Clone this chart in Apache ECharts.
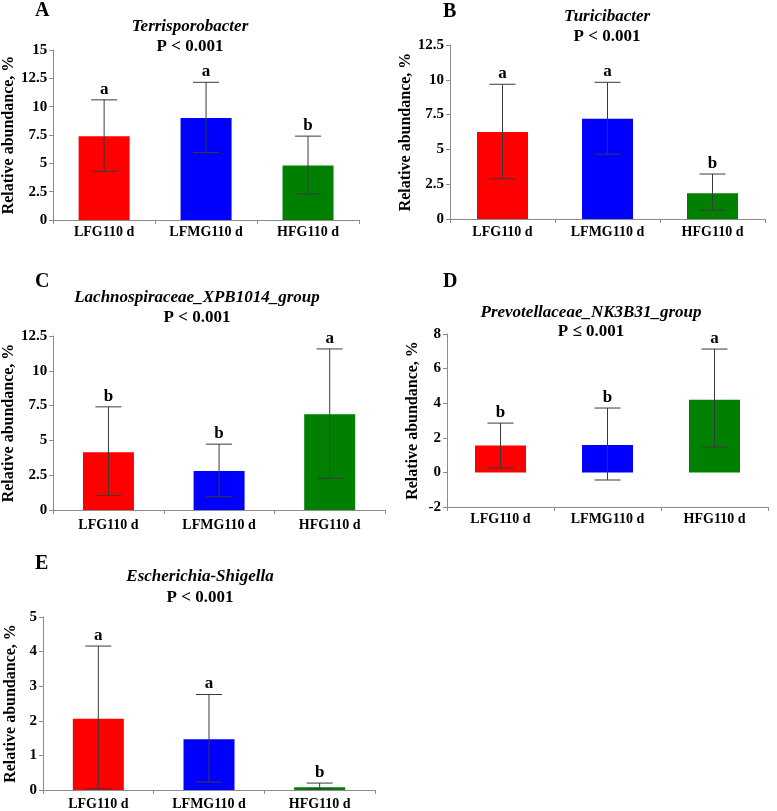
<!DOCTYPE html>
<html>
<head>
<meta charset="utf-8">
<script src="https://cdn.jsdelivr.net/npm/echarts@6/dist/echarts.min.js"></script>
<style>
  html, body { margin: 0; padding: 0; background: #fff; }
  #main { width: 777px; height: 811px; }
</style>
</head>
<body>
<div id="main"></div>
<script>
// groups on the x axis, same for every panel
const categories = ['LFG110 d', 'LFMG110 d', 'HFG110 d'];
const barColors = ['#FF0000', '#0000FF', '#008000'];

// A - Terrisporobacter
const meanA = [7.4, 9.0, 4.8];
const upperA = [10.6, 12.15, 7.4];
const lowerA = [4.3, 5.95, 2.3];
const letterA = ['a', 'a', 'b'];

// B - Turicibacter
const meanB = [6.25, 7.2, 1.85];
const upperB = [9.68, 9.82, 3.23];
const lowerB = [2.89, 4.66, 0.62];
const letterB = ['a', 'a', 'b'];

// C - Lachnospiraceae_XPB1014_group
const meanC = [4.15, 2.8, 6.87];
const upperC = [7.41, 4.73, 11.57];
const lowerC = [1.05, 0.95, 2.27];
const letterC = ['b', 'b', 'a'];

// D - Prevotellaceae_NK3B31_group
const meanD = [1.55, 1.58, 4.2];
const upperD = [2.85, 3.72, 7.13];
const lowerD = [0.25, -0.44, 1.47];
const letterD = ['b', 'b', 'a'];

// E - Escherichia-Shigella
const meanE = [2.06, 1.47, 0.08];
const upperE = [4.16, 2.76, 0.2];
const lowerE = [0.04, 0.23, 0.04];
const letterE = ['a', 'a', 'b'];

const titles = ['Terrisporobacter', 'Turicibacter', 'Lachnospiraceae_XPB1014_group',
  'Prevotellaceae_NK3B31_group', 'Escherichia-Shigella'];
const pTexts = ['P < 0.001', 'P < 0.001', 'P < 0.001', 'P \u2264 0.001', 'P < 0.001'];
const panelLetters = ['A', 'B', 'C', 'D', 'E'];

const yMin = [0, 0, 0, -2, 0];
const yMax = [15, 12.5, 12.5, 8, 5];
const yStep = [2.5, 2.5, 2.5, 2, 1];

const means = [meanA, meanB, meanC, meanD, meanE];
const uppers = [upperA, upperB, upperC, upperD, upperE];
const lowers = [lowerA, lowerB, lowerC, lowerD, lowerE];
const letters = [letterA, letterB, letterC, letterD, letterE];

// layout of each panel (pixels)
const layout = [
  { left: 47, top: 50, width: 312, height: 170, nameGap: 28, lblMargin: 5, tx: 190, ty: 27, py: 47, lx: 35, ly: 11 },
  { left: 450, top: 45, width: 315, height: 174, nameGap: 29, lblMargin: 6, tx: 607, ty: 17, py: 37, lx: 443, ly: 12 },
  { left: 49, top: 336, width: 336, height: 174, nameGap: 30, lblMargin: 8, tx: 197, ty: 298, py: 318, lx: 35, ly: 282 },
  { left: 447, top: 334, width: 321, height: 173, nameGap: 26, lblMargin: 5, tx: 591, ty: 313, py: 332, lx: 443, ly: 282 },
  { left: 43, top: 617, width: 332, height: 174, nameGap: 24, lblMargin: 7, tx: 200, ty: 577, py: 598, lx: 35, ly: 564 }
];

const FONT = 'Liberation Serif';
const axisGrey = '#8c8c8c';

let grid = [], xAxis = [], yAxis = [], series = [], graphic = [];

layout.forEach((L, k) => {
  grid.push({ left: L.left, top: L.top, width: L.width, height: L.height });

  xAxis.push({
    type: 'category',
    gridIndex: k,
    data: categories,
    axisLine: { onZero: false, lineStyle: { color: axisGrey, width: 1 } },
    axisTick: { show: true, length: 4, lineStyle: { color: axisGrey } },
    axisLabel: { color: '#000', fontFamily: FONT, fontWeight: 'bold', fontSize: 14, margin: L.lblMargin }
  });

  yAxis.push({
    type: 'value',
    gridIndex: k,
    min: yMin[k],
    max: yMax[k],
    interval: yStep[k],
    splitLine: { show: false },
    axisLine: { show: true, lineStyle: { color: axisGrey, width: 1 } },
    axisTick: { show: true, length: 4, lineStyle: { color: axisGrey } },
    axisLabel: { color: '#000', fontFamily: FONT, fontWeight: 'bold', fontSize: 15, margin: 6 },
    name: 'Relative abundance, %',
    nameLocation: 'middle',
    nameRotate: 90,
    nameGap: L.nameGap,
    nameTextStyle: { color: '#000', fontFamily: FONT, fontWeight: 'bold', fontSize: 16 }
  });

  series.push({
    type: 'bar',
    xAxisIndex: k,
    yAxisIndex: k,
    barWidth: 51,
    data: means[k].map((v, i) => ({ value: v, itemStyle: { color: barColors[i] } })),
    silent: true
  });

  // error bars with the significance letter on top
  const lets = letters[k];
  series.push({
    type: 'custom',
    xAxisIndex: k,
    yAxisIndex: k,
    z: 5,
    silent: true,
    data: categories.map((c, i) => [i, lowers[k][i], uppers[k][i]]),
    renderItem: function (params, api) {
      const x = api.value(0);
      const lo = api.coord([x, api.value(1)]);
      const hi = api.coord([x, api.value(2)]);
      const half = 13;
      const st = { stroke: '#3a3a3a', lineWidth: 1 };
      return {
        type: 'group',
        children: [
          { type: 'line', shape: { x1: lo[0], y1: lo[1], x2: hi[0], y2: hi[1] }, style: st },
          { type: 'line', shape: { x1: hi[0] - half, y1: hi[1], x2: hi[0] + half, y2: hi[1] }, style: st },
          { type: 'line', shape: { x1: lo[0] - half, y1: lo[1], x2: lo[0] + half, y2: lo[1] }, style: st },
          {
            type: 'text',
            style: {
              x: hi[0], y: hi[1] - 2,
              text: lets[params.dataIndex],
              textAlign: 'center', textVerticalAlign: 'bottom',
              fontFamily: FONT, fontWeight: 'bold', fontSize: 17, fill: '#000'
            }
          }
        ]
      };
    }
  });

  graphic.push({
    type: 'text',
    style: { x: L.tx, y: L.ty, text: titles[k], textAlign: 'center', textVerticalAlign: 'middle',
      fontFamily: FONT, fontWeight: 'bold', fontStyle: 'italic', fontSize: 17, fill: '#000' }
  });
  graphic.push({
    type: 'text',
    style: { x: L.tx, y: L.py, text: pTexts[k], textAlign: 'center', textVerticalAlign: 'middle',
      fontFamily: FONT, fontWeight: 'bold', fontSize: 17, fill: '#000' }
  });
  graphic.push({
    type: 'text',
    style: { x: L.lx, y: L.ly, text: panelLetters[k], textAlign: 'left', textVerticalAlign: 'middle',
      fontFamily: FONT, fontWeight: 'bold', fontSize: 20, fill: '#000' }
  });
});

const chart = echarts.init(document.getElementById('main'));
chart.setOption({
  animation: false,
  backgroundColor: '#fff',
  grid: grid,
  xAxis: xAxis,
  yAxis: yAxis,
  series: series,
  graphic: graphic
});
</script>
</body>
</html>
